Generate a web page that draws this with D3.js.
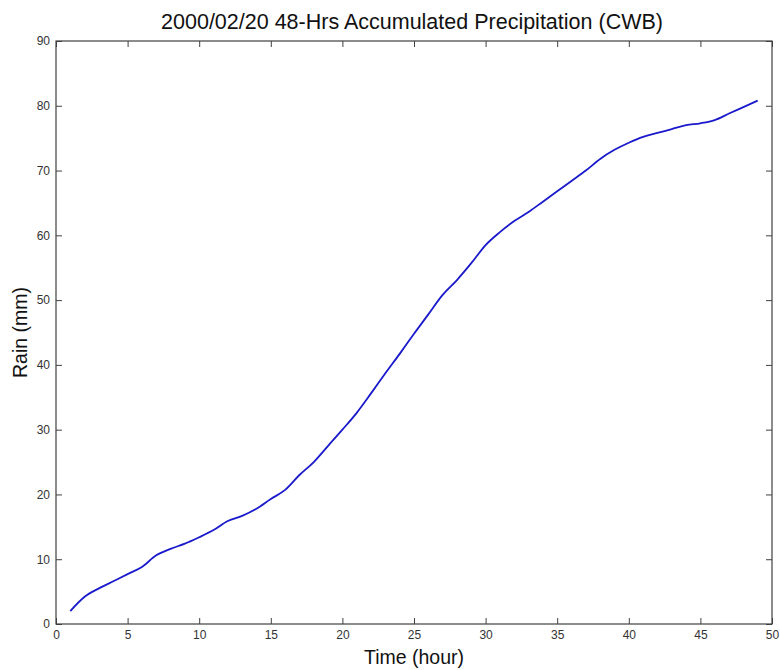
<!DOCTYPE html>
<html><head><meta charset="utf-8">
<script src="https://cdn.jsdelivr.net/npm/d3@7"></script>
<style>body{margin:0;background:#fff;} svg{display:block;}</style>
</head><body>
<svg id="c" width="780" height="670"></svg>
<script>
const hours = [1,2,3,4,5,6,7,8,9,10,11,12,13,14,15,16,17,18,19,20,21,22,23,24,25,26,27,28,29,30,31,32,33,34,35,36,37,38,39,40,41,42,43,44,45,46,47,48,49];
const rain = [2.0,4.2,5.5,6.6,7.7,8.8,10.6,11.6,12.4,13.4,14.5,15.9,16.7,17.8,19.3,20.7,23.0,25.0,27.5,30.0,32.6,35.6,38.7,41.7,44.8,47.8,50.8,53.1,55.7,58.5,60.5,62.2,63.6,65.2,66.8,68.4,70.0,71.8,73.2,74.3,75.2,75.8,76.4,77.0,77.3,77.8,78.8,79.8,80.8];
const xTicks = [0,5,10,15,20,25,30,35,40,45,50];
const yTicks = [0,10,20,30,40,50,60,70,80,90];

const L=56,R=772,T=41,B=624;
const svg=d3.select("#c");
const x=d3.scaleLinear().domain([0,50]).range([L,R]);
const y=d3.scaleLinear().domain([0,90]).range([B,T]);
const font="Liberation Sans, Arial, sans-serif";
const axCol="#404040";

function styleAxis(g){
  g.select(".domain").remove();
  g.selectAll("line").attr("stroke",axCol);
  g.selectAll("text").attr("font-family",font).attr("font-size",12).attr("fill","#333");
}
svg.append("g").attr("transform",`translate(0,${B})`)
  .call(d3.axisBottom(x).tickValues(xTicks).tickSizeInner(-6).tickSizeOuter(0).tickPadding(6).tickFormat(d3.format("d")))
  .call(styleAxis);
svg.append("g").attr("transform",`translate(0,${T})`)
  .call(d3.axisTop(x).tickValues(xTicks).tickSizeInner(-6).tickSizeOuter(0).tickFormat(""))
  .call(styleAxis);
svg.append("g").attr("transform",`translate(${L},0)`)
  .call(d3.axisLeft(y).tickValues(yTicks).tickSizeInner(-6).tickSizeOuter(0).tickPadding(6).tickFormat(d3.format("d")))
  .call(styleAxis);
svg.append("g").attr("transform",`translate(${R},0)`)
  .call(d3.axisRight(y).tickValues(yTicks).tickSizeInner(-6).tickSizeOuter(0).tickFormat(""))
  .call(styleAxis);

svg.append("rect").attr("x",L).attr("y",T).attr("width",R-L).attr("height",B-T)
  .attr("fill","none").attr("stroke",axCol).attr("stroke-width",1.2);

const line=d3.line().x((d,i)=>x(hours[i])).y(d=>y(d)).curve(d3.curveMonotoneX);
svg.append("path").datum(rain).attr("d",line).attr("fill","none")
  .attr("stroke","#1a1acc").attr("stroke-width",1.8);

svg.append("text").attr("x",412).attr("y",29).attr("text-anchor","middle")
  .attr("font-family",font).attr("font-size",21.5).attr("fill","#111")
  .text("2000/02/20 48-Hrs Accumulated Precipitation (CWB)");
svg.append("text").attr("x",(L+R)/2).attr("y",664).attr("text-anchor","middle")
  .attr("font-family",font).attr("font-size",19.5).attr("fill","#111")
  .text("Time (hour)");
svg.append("text").attr("transform",`translate(27,${(T+B)/2}) rotate(-90)`).attr("text-anchor","middle")
  .attr("font-family",font).attr("font-size",19.5).attr("fill","#111")
  .text("Rain (mm)");
</script>
</body></html>
